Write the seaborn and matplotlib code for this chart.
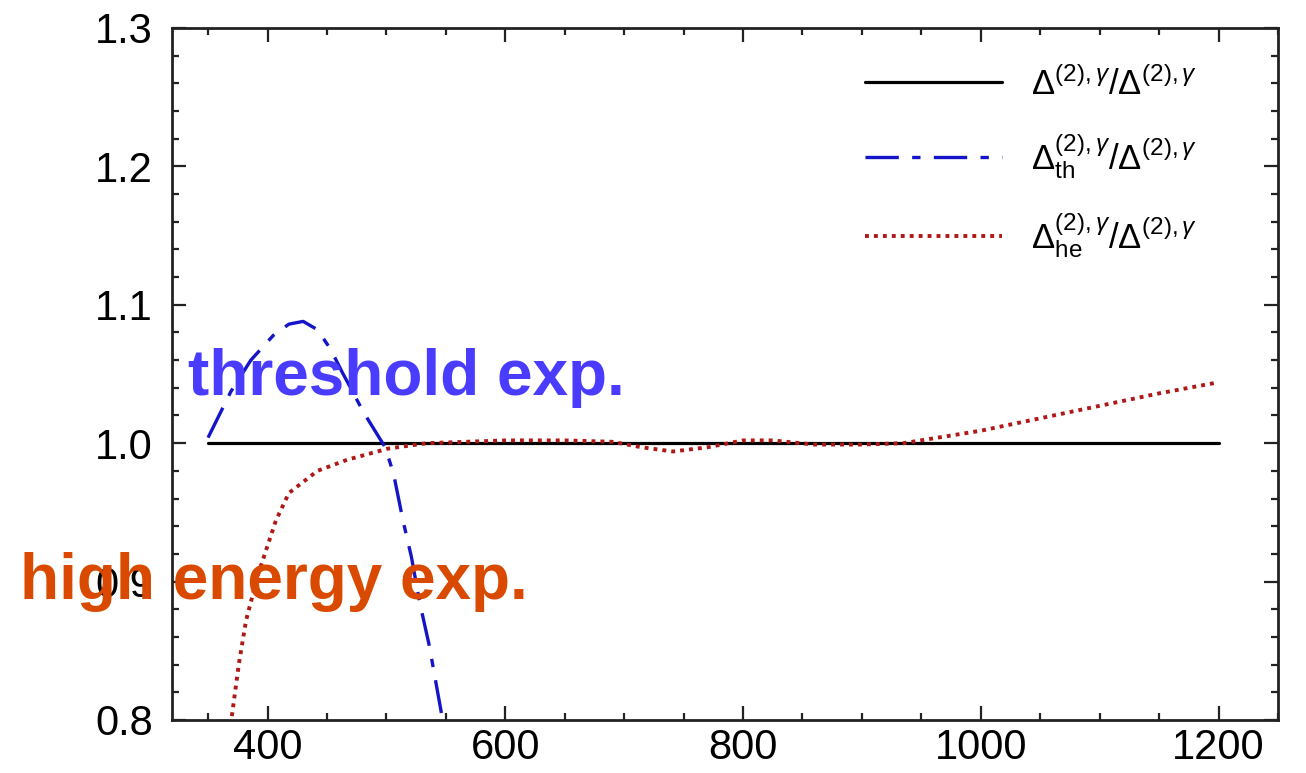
import matplotlib
matplotlib.use("Agg")
import matplotlib.pyplot as plt
import seaborn as sns
import pandas as pd
from matplotlib.ticker import MultipleLocator

# ---- data ----
full_x = [350, 1200]
full_y = [1.0, 1.0]

th_x = [350, 369, 386, 405, 418, 430, 442, 453, 463, 481, 499, 506, 514, 521, 528, 536, 549]
th_y = [1.004, 1.037, 1.060, 1.078, 1.086, 1.088, 1.082, 1.068, 1.051, 1.022, 0.997,
        0.978, 0.944, 0.918, 0.885, 0.854, 0.792]

he_x = [368, 376, 382, 392, 407, 418, 442, 467, 501, 534, 600, 650, 690, 715,
        741, 770, 800, 825, 860, 900, 935, 1000, 1050, 1100, 1150, 1200]
he_y = [0.790, 0.841, 0.872, 0.905, 0.944, 0.964, 0.980, 0.988, 0.996, 1.000,
        1.002, 1.002, 1.001, 0.997, 0.994, 0.997, 1.002, 1.002, 0.999, 0.999,
        1.000, 1.009, 1.018, 1.027, 1.036, 1.044]

labels = [r'$\Delta^{(2),\gamma}/\Delta^{(2),\gamma}$',
          r'$\Delta^{(2),\gamma}_{\rm th}/\Delta^{(2),\gamma}$',
          r'$\Delta^{(2),\gamma}_{\rm he}/\Delta^{(2),\gamma}$']
xticks = [400, 600, 800, 1000, 1200]
yticks = [0.8, 0.9, 1.0, 1.1, 1.2, 1.3]

sns.set_theme(style="ticks")
plt.rcParams['font.family'] = ['Liberation Sans', 'DejaVu Sans']
plt.rcParams['mathtext.fontset'] = 'custom'
plt.rcParams['mathtext.rm'] = 'Liberation Sans'
plt.rcParams['mathtext.it'] = 'Liberation Sans:italic'
plt.rcParams['text.color'] = 'black'
plt.rcParams['xtick.labelcolor'] = 'black'
plt.rcParams['ytick.labelcolor'] = 'black'

fig = plt.figure(figsize=(13.06, 7.73), dpi=100)
ax = fig.add_axes([0.132, 0.0686, 0.8466, 0.8952])

df_full = pd.DataFrame({'x': full_x, 'y': full_y})
df_th = pd.DataFrame({'x': th_x, 'y': th_y})
df_he = pd.DataFrame({'x': he_x, 'y': he_y})

sns.lineplot(data=df_full, x='x', y='y', ax=ax, color='black', lw=2.3,
             label=labels[0], sort=False)
l2 = sns.lineplot(data=df_th, x='x', y='y', ax=ax, color='#1414c8', lw=2.4,
                  label=labels[1], sort=False).lines[-1]
l2.set_dashes((10, 4, 2.5, 4))
l3 = sns.lineplot(data=df_he, x='x', y='y', ax=ax, color='#b01818', lw=2.8,
                  label=labels[2], sort=False).lines[-1]
l3.set_dashes((1.0, 1.3))

ax.set_xlim(320, 1250)
ax.set_ylim(0.8, 1.3)
ax.set_xticks(xticks)
ax.set_yticks(yticks)
ax.set_yticklabels([f"{v:.1f}" for v in yticks])
ax.xaxis.set_minor_locator(MultipleLocator(50))
ax.yaxis.set_minor_locator(MultipleLocator(0.02))
ax.set_xlabel('')
ax.set_ylabel('')
for s in ax.spines.values():
    s.set_visible(True)
    s.set_linewidth(2.0)
    s.set_color('#222222')
ax.tick_params(which='both', direction='in', top=True, right=True,
               width=1.6, color='#222222')
ax.tick_params(which='major', length=10, labelsize=30)
ax.tick_params(which='minor', length=5)
ax.tick_params(axis='y', which='major', pad=14)
ax.tick_params(axis='x', which='major', pad=6)

leg = ax.legend(loc='upper left', bbox_to_anchor=(0.598, 0.99), frameon=False,
                fontsize=25, handlelength=3.95, labelspacing=0.85, handletextpad=0.85)

fig.text(0.144, 0.489, 'threshold exp.', color='#4a3cff', fontsize=46,
         fontweight='bold', va='baseline', zorder=10)
fig.text(0.0153, 0.225, 'high energy exp.', color='#d94a00', fontsize=46,
         fontweight='bold', va='baseline', zorder=10)

fig.savefig('out.png', dpi=100)
